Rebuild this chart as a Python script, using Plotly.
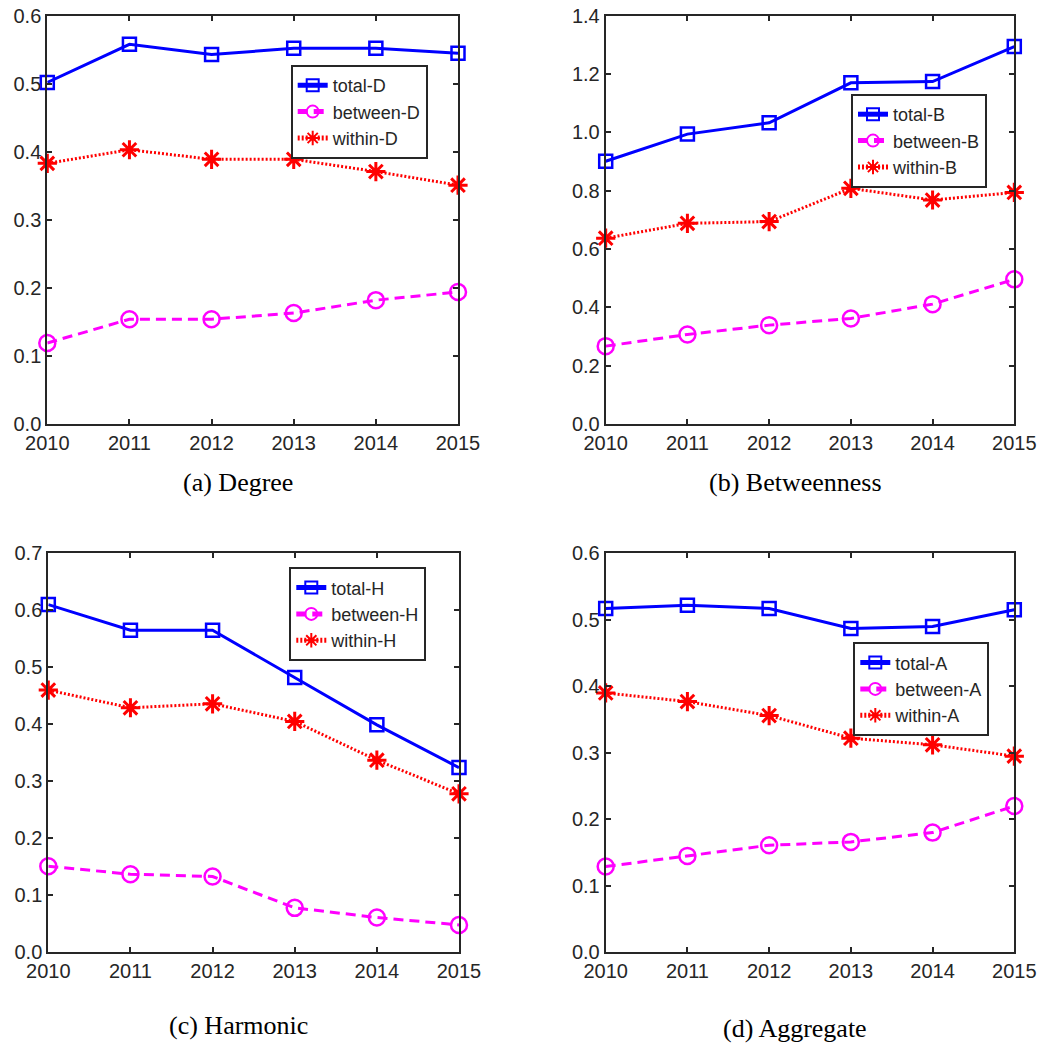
import plotly.graph_objects as go

years = [2010, 2011, 2012, 2013, 2014, 2015]

total_D = [0.502, 0.558, 0.543, 0.552, 0.552, 0.545]
between_D = [0.119, 0.154, 0.154, 0.163, 0.182, 0.194]
within_D = [0.383, 0.403, 0.389, 0.389, 0.371, 0.351]

total_B = [0.901, 0.994, 1.033, 1.170, 1.174, 1.294]
between_B = [0.267, 0.307, 0.339, 0.362, 0.411, 0.496]
within_B = [0.637, 0.688, 0.694, 0.808, 0.768, 0.794]

total_H = [0.610, 0.565, 0.565, 0.482, 0.399, 0.324]
between_H = [0.151, 0.137, 0.133, 0.078, 0.061, 0.048]
within_H = [0.460, 0.429, 0.436, 0.405, 0.337, 0.278]

total_A = [0.517, 0.522, 0.517, 0.487, 0.490, 0.515]
between_A = [0.129, 0.145, 0.161, 0.166, 0.180, 0.220]
within_A = [0.390, 0.377, 0.356, 0.322, 0.312, 0.295]

panels = [
    ("D", total_D, between_D, within_D, 0.6, "(a) Degree"),
    ("B", total_B, between_B, within_B, 1.4, "(b) Betweenness"),
    ("H", total_H, between_H, within_H, 0.7, "(c) Harmonic"),
    ("A", total_A, between_A, within_A, 0.6, "(d) Aggregate"),
]

W, H = 1044, 1055
# pixel boxes: (left, right, top, bottom)
boxes = [
    (47.3, 458.0, 15.7, 424.0),
    (605.7, 1014.3, 15.7, 424.0),
    (48.3, 459.0, 553.3, 952.3),
    (605.7, 1014.3, 553.3, 952.3),
]
legend_pos = [(290.7, 65.0), (851.0, 94.0), (289.3, 567.3), (853.3, 642.3)]
caption_pos = [(238, 482), (795, 482), (238, 1025), (795, 1028)]
ydticks = [0.1, 0.2, 0.1, 0.1]

fig = go.Figure()
axcol = "#262626"

for i, (k, tot, btw, wth, ymax, cap) in enumerate(panels):
    n = "" if i == 0 else str(i + 1)
    xa, ya = "x" + n, "y" + n
    lg = "legend" + n
    fig.add_trace(go.Scatter(
        x=years, y=tot, mode="lines+markers", name="total-" + k,
        xaxis=xa, yaxis=ya, legend=lg, cliponaxis=False,
        line=dict(color="#0000FF", width=3),
        marker=dict(symbol="square-open", size=13, color="#0000FF",
                    line=dict(color="#0000FF", width=2.5))))
    fig.add_trace(go.Scatter(
        x=years, y=btw, mode="lines+markers", name="between-" + k,
        xaxis=xa, yaxis=ya, legend=lg, cliponaxis=False,
        line=dict(color="#FF00FF", width=3, dash="10px,6px"),
        marker=dict(symbol="circle-open", size=16, color="#FF00FF",
                    line=dict(color="#FF00FF", width=2.5))))
    fig.add_trace(go.Scatter(
        x=years, y=wth, mode="lines+markers", name="within-" + k,
        xaxis=xa, yaxis=ya, legend=lg, cliponaxis=False,
        line=dict(color="#FF0000", width=3, dash="2px,2px"),
        marker=dict(symbol="asterisk-open", size=16, color="#FF0000",
                    line=dict(color="#FF0000", width=3))))

    l, r, t, b = boxes[i]
    axis_common = dict(
        showline=True, linecolor=axcol, linewidth=2, mirror="ticks",
        ticks="inside", ticklen=5, tickwidth=1.5, tickcolor=axcol,
        showgrid=False, zeroline=False, automargin=False,
        tickfont=dict(family="Liberation Sans, Arial", size=20, color=axcol),
    )
    fig.layout["xaxis" + n] = dict(
        domain=[l / W, r / W], anchor=ya, range=[2010, 2015],
        tickmode="linear", tick0=2010, dtick=1, **axis_common)
    fig.layout["yaxis" + n] = dict(
        domain=[1 - b / H, 1 - t / H], anchor=xa, range=[0, ymax],
        tickmode="linear", tick0=0, dtick=ydticks[i], tickformat=".1f",
        **axis_common)
    lx, ly = legend_pos[i]
    fig.layout[lg] = dict(
        x=lx / W, y=1 - ly / H, xanchor="left", yanchor="top",
        bgcolor="white", bordercolor=axcol, borderwidth=2,
        font=dict(family="Liberation Sans, Arial", size=18, color=axcol),
        tracegroupgap=0, itemsizing="constant",
        entrywidth=105, entrywidthmode="pixels")
    cx, cy = caption_pos[i]
    fig.add_annotation(
        x=cx / W, y=1 - cy / H, xref="paper", yref="paper",
        text=cap, showarrow=False, xanchor="center", yanchor="middle",
        font=dict(family="Liberation Serif, Times New Roman", size=26, color="black"))

fig.update_layout(
    width=W, height=H, margin=dict(l=0, r=0, t=0, b=0),
    paper_bgcolor="white", plot_bgcolor="white", showlegend=True)

fig.write_html("out.html")
